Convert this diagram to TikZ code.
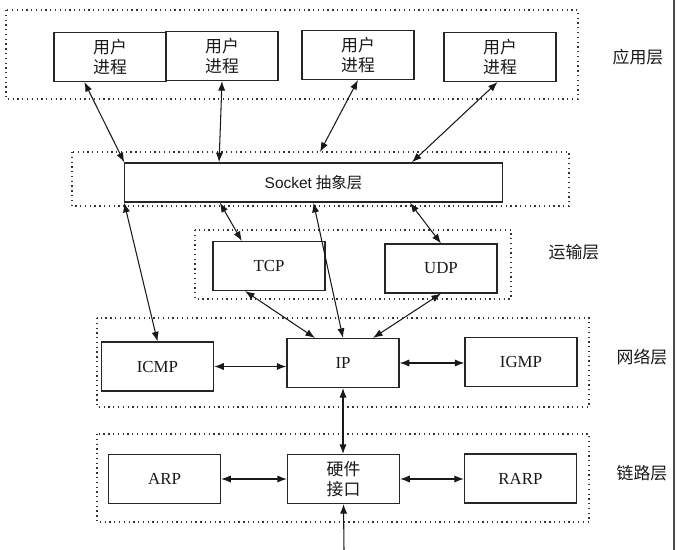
\documentclass[tikz,border=0pt]{standalone}
\usepackage{fontspec}
\setmainfont{Liberation Serif}
\newfontfamily\cjk{Noto Sans CJK SC}
\newfontfamily\sockfont{Liberation Sans}
\usetikzlibrary{arrows.meta}
\tikzset{
  box/.style={draw=black!85, line width=0.9pt, align=center, minimum width=2.8cm, minimum height=1.22cm, inner sep=0pt, font=\fontsize{12}{14}\selectfont, text=black!90},
  kproc/.style={box, font=\cjk\fontsize{12}{14.5}\selectfont},
  kproto/.style={box},
  ksock/.style={box, minimum width=9.43cm, minimum height=0.98cm, font=\fontsize{11}{13}\selectfont},
  layer/.style={draw=black!80, line width=0.9pt, dash pattern=on 0.9pt off 2.5pt},
  klabel/.style={font=\cjk\fontsize{12}{14}\selectfont, text=black!90},
  flow/.style={{Latex[length=2.4mm,width=1.8mm]}-{Latex[length=2.4mm,width=1.8mm]}, line width=0.75pt, black!90},
  upflow/.style={-{Latex[length=2.4mm,width=1.8mm]}, line width=0.75pt, black!90},
}

\begin{document}
\begin{tikzpicture}[x=0.025cm, y=-0.025cm]
    \useasboundingbox (0,0) rectangle (677,550);
    % layer frames
    \draw[layer] (6,10) rectangle (578,99);
    \draw[layer] (72,152) rectangle (569,206);
    \draw[layer] (195,230) rectangle (511,299);
    \draw[layer] (97,318) rectangle (589,407);
    \draw[layer] (97,434) rectangle (589,522);
    \draw[black!70, line width=0.8pt] (674,0) -- (674,550);
    % boxes
    \node[kproc] (user1) at (110,57) {用户\\进程};
    \node[kproc] (user2) at (222,56) {用户\\进程};
    \node[kproc] (user3) at (358,55) {用户\\进程};
    \node[kproc] (user4) at (500,57) {用户\\进程};
    \node[ksock] (socket) at (313.5,182.5) {{\sockfont Socket} {\cjk 抽象层}};
    \node[kproto] (tcp) at (269,266) {TCP};
    \node[kproto] (udp) at (441,268.5) {UDP};
    \node[kproto] (icmp) at (157.5,366.5) {ICMP};
    \node[kproto] (ip) at (343,363) {IP};
    \node[kproto] (igmp) at (521,362) {IGMP};
    \node[kproto] (arp) at (164.5,479) {ARP};
    \node[kproc] (hw) at (343.5,479) {硬件\\接口};
    \node[kproto] (rarp) at (520.5,478.5) {RARP};
    % layer names
    \node[klabel] (lapp) at (638,57) {应用层};
    \node[klabel] (ltrans) at (574,252) {运输层};
    \node[klabel] (lnet) at (642,357) {网络层};
    \node[klabel] (llink) at (642,473) {链路层};
    \coordinate (sockin) at (320,152);
    \coordinate (wire) at (344,550);
    % connectors
    \draw[flow] ([xshift=-0.64cm]user1.south) -- (socket.north west);
    \draw[flow] (user2.south) -- ([xshift=-2.36cm]socket.north);
    \draw[flow] (user3.south) -- (sockin);
    \draw[flow] ([xshift=-0.06cm]user4.south) -- ([xshift=2.46cm]socket.north);
    \draw[flow] (socket.south west) -- (icmp.north);
    \draw[flow] ([xshift=-2.34cm]socket.south) -- ([xshift=-0.68cm]tcp.north);
    \draw[flow] (socket.south) -- (ip.north);
    \draw[flow] ([xshift=2.41cm]socket.south) -- (udp.north);
    \draw[flow] ([xshift=-0.6cm]tcp.south) -- ([xshift=-0.7cm]ip.north);
    \draw[flow] (udp.south) -- ([xshift=0.75cm]ip.north);
    \draw[flow] (icmp.east) -- (icmp.east -| ip.west);
    \draw[flow] (ip.east) -- (ip.east -| igmp.west);
    \draw[flow] (ip.south) -- (ip.south |- hw.north);
    \draw[flow] (arp.east) -- (hw.west);
    \draw[flow] (hw.east) -- (hw.east -| rarp.west);
    \draw[upflow] (wire) -- (hw.south);
\end{tikzpicture}
\end{document}
